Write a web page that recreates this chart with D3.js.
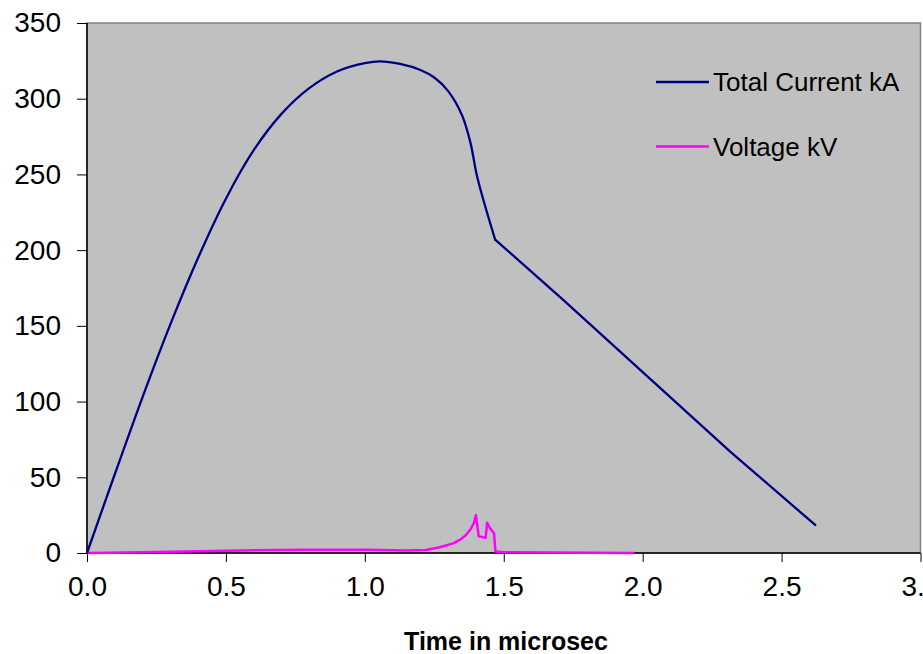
<!DOCTYPE html>
<html lang="en">
<head>
  <meta charset="UTF-8">
  <title>Current and Voltage</title>
  <script src="https://d3js.org/d3.v7.min.js"></script>
  <style>
    body { margin: 0; background: #fff; }
    text { font-family: "Liberation Sans", Arial, sans-serif; fill: #000; }
    .axis .domain { display: none; }
    .axis line { stroke: #000; }
  </style>
</head>
<body>
  <svg id="chart" width="923" height="654"></svg>

  <script>
    // values
    const currentTime = [0, 0.1, 0.2, 0.3, 0.4, 0.5, 0.6, 0.7, 0.8, 0.9, 1.0, 1.055, 1.127, 1.2, 1.25, 1.3, 1.35, 1.38, 1.405, 1.469, 1.715, 2.015, 2.315, 2.621];
    const currentKA   = [0, 52, 103, 151, 195, 234, 266, 290, 307, 318, 323.5, 324.7, 323, 319, 314, 305, 289, 271, 248, 207, 167, 117, 67, 18.5];
    const kinkIndex = 19; // sharp corner at t = 1.469

    const voltageTime = [0, 0.2, 0.5, 0.8, 1.0, 1.15, 1.22, 1.27, 1.32, 1.345, 1.365, 1.38, 1.392, 1.40, 1.41, 1.435, 1.44, 1.452, 1.465, 1.47, 1.5, 1.97];
    const voltageKV   = [0, 0.5, 1.5, 2.2, 2.2, 1.6, 2, 3.8, 6.5, 9, 12, 15.5, 19.5, 25, 11, 10, 20, 16, 13, 1, 0.5, 0];

    const yTicks = [0, 50, 100, 150, 200, 250, 300, 350];
    const xTicks = [0, 0.5, 1.0, 1.5, 2.0, 2.5, 3.0];

    const seriesNames = ["Total Current kA", "Voltage kV"];
    const seriesColors = ["#000080", "#FF00FF"];

    const svg = d3.select("#chart");
    const margins = { top: 23, right: 2, bottom: 101, left: 87 };
    const width = +svg.attr("width");
    const height = +svg.attr("height");
    const chartWidth = 920.5 - margins.left;
    const chartHeight = height - margins.top - margins.bottom;

    const xScale = d3.scaleLinear().domain([0, 3]).range([0, chartWidth]);
    const yScale = d3.scaleLinear().domain([0, 350]).range([chartHeight, 0]);

    const chartArea = svg.append("g").attr("transform", `translate(${margins.left},${margins.top})`);

    // grey plot area with its frame
    chartArea.append("rect")
      .attr("x", 0).attr("y", 0)
      .attr("width", chartWidth).attr("height", chartHeight)
      .attr("fill", "#C0C0C0")
      .attr("stroke", "#808080")
      .attr("stroke-width", 1.5);

    // axes
    const leftAxis = d3.axisLeft(yScale).tickValues(yTicks).tickSize(10).tickPadding(16).tickFormat(d3.format("d"));
    const yAxisG = chartArea.append("g").attr("class", "y axis").call(leftAxis);
    yAxisG.selectAll("text").attr("font-size", "28px");

    const bottomAxis = d3.axisBottom(xScale).tickValues(xTicks).tickSize(9).tickPadding(14).tickFormat(d3.format(".1f"));
    const xAxisG = chartArea.append("g").attr("class", "x axis")
      .attr("transform", `translate(0,${chartHeight})`).call(bottomAxis);
    xAxisG.selectAll("text").attr("font-size", "28px");

    // black axis lines on left and bottom
    chartArea.append("line").attr("x1", 0).attr("x2", 0).attr("y1", 0).attr("y2", chartHeight)
      .attr("stroke", "#000").attr("stroke-width", 1.5);
    chartArea.append("line").attr("x1", 0).attr("x2", chartWidth).attr("y1", chartHeight).attr("y2", chartHeight)
      .attr("stroke", "#000").attr("stroke-width", 1.5);

    // lines
    const currentData = currentTime.map((t, i) => ({ t: t, v: currentKA[i] }));
    const voltageData = voltageTime.map((t, i) => ({ t: t, v: voltageKV[i] }));

    const smoothLine = d3.line().x(d => xScale(d.t)).y(d => yScale(d.v)).curve(d3.curveCatmullRom.alpha(0.5));
    const straightLine = d3.line().x(d => xScale(d.t)).y(d => yScale(d.v));

    chartArea.append("path").datum(voltageData)
      .attr("fill", "none").attr("stroke", seriesColors[1]).attr("stroke-width", 2.5)
      .attr("stroke-linejoin", "round")
      .attr("d", straightLine);

    // current: smooth up to the corner, then straight on
    chartArea.append("path").datum(currentData.slice(0, kinkIndex + 1))
      .attr("fill", "none").attr("stroke", seriesColors[0]).attr("stroke-width", 2.3)
      .attr("stroke-linejoin", "round").attr("stroke-linecap", "round")
      .attr("d", smoothLine);
    chartArea.append("path").datum(currentData.slice(kinkIndex))
      .attr("fill", "none").attr("stroke", seriesColors[0]).attr("stroke-width", 2.3)
      .attr("stroke-linejoin", "round").attr("stroke-linecap", "round")
      .attr("d", straightLine);

    // legend
    const legend = svg.append("g");
    seriesNames.forEach((name, i) => {
      const y = 82 + i * 64.5;
      legend.append("line")
        .attr("x1", 656).attr("x2", 709).attr("y1", y).attr("y2", y)
        .attr("stroke", seriesColors[i]).attr("stroke-width", 2.5);
      legend.append("text")
        .attr("x", 713).attr("y", y + 9)
        .attr("font-size", "26px")
        .text(name);
    });

    // x-axis label
    svg.append("text")
      .attr("x", 506).attr("y", 650)
      .attr("text-anchor", "middle")
      .attr("font-size", "25px")
      .attr("font-weight", "bold")
      .text("Time in microsec");
  </script>
</body>
</html>
